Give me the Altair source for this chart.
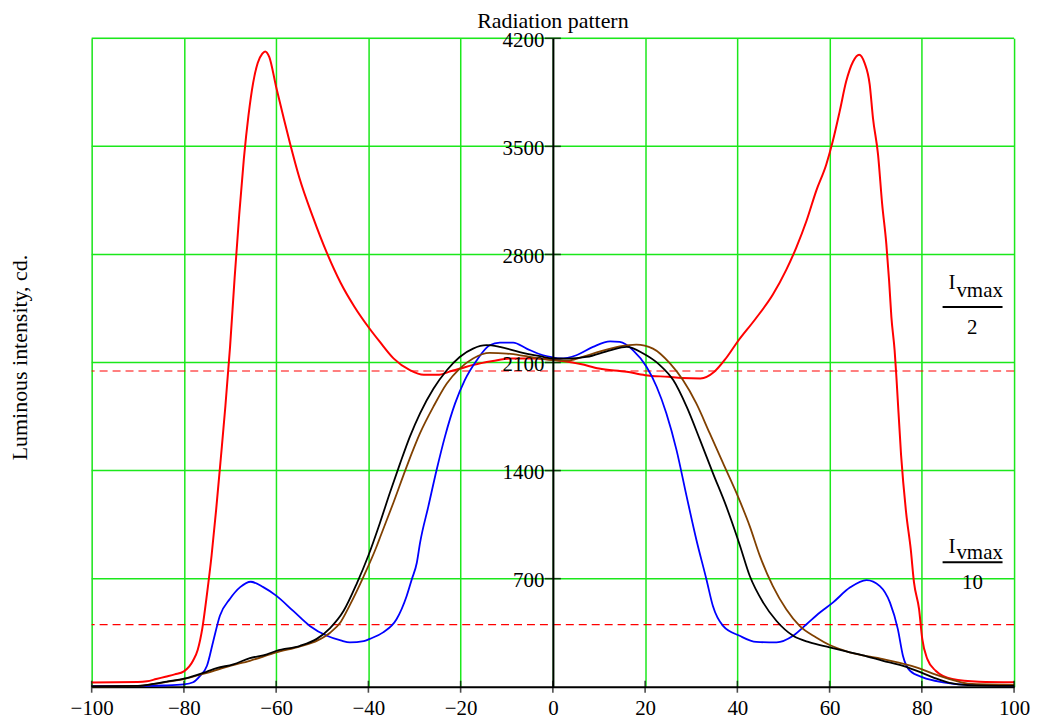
import altair as alt
import pandas as pd

# ---------------- data ----------------
TITLE = "Radiation pattern"
Y_TITLE = "Luminous intensity, cd."
X_TICKS = [-100, -80, -60, -40, -20, 0, 20, 40, 60, 80, 100]
Y_TICKS = [700, 1400, 2100, 2800, 3500, 4200]
LEVELS = [2045, 402]          # Ivmax/2 and Ivmax/10
DENOMS = ["2", "10"]

RED = [(-100, 28), (-90, 30), (-88, 35), (-86, 50), (-84, 65), (-82, 80), (-80, 100),
       (-78, 170), (-77, 240), (-76, 380), (-75, 600), (-74, 850), (-73, 1150),
       (-72, 1480), (-71, 1820), (-70, 2200), (-69, 2650), (-68, 3060), (-67, 3420),
       (-66, 3700), (-65, 3910), (-64, 4040), (-63, 4100), (-62.4, 4115), (-61.5, 4080),
       (-60, 3885), (-58.5, 3700), (-57, 3520), (-55, 3300), (-52, 3040), (-49, 2810),
       (-46, 2615), (-43, 2460), (-40, 2330), (-37.5, 2233), (-34.5, 2125), (-31, 2050),
       (-28, 2020), (-25, 2020), (-22, 2045), (-20, 2061), (-17.5, 2083), (-13, 2110),
       (-9, 2126), (-4, 2126), (0, 2118), (2, 2110), (6, 2090), (10, 2061), (16, 2040),
       (20, 2018), (25, 2007), (28, 2000), (32, 1997), (35, 2040), (37.5, 2126),
       (40, 2233), (44, 2385), (47.7, 2540), (50.6, 2700), (52.8, 2846), (55, 3018),
       (57.1, 3212), (59.3, 3384), (60.7, 3534), (62.2, 3728), (63.6, 3921), (65.1, 4050),
       (66.4, 4094), (67.6, 4039), (68.7, 3900), (69.4, 3685), (70.5, 3448), (71.4, 3126),
       (72.3, 2868), (72.9, 2631), (73.4, 2394), (74.1, 2179), (74.5, 2000), (75.5, 1500),
       (76.6, 1126), (77.6, 889), (78.3, 676), (79.4, 502), (80.1, 308), (81.2, 179),
       (83, 104), (86.6, 50), (92.4, 33), (100, 29)]

BLUE = [(-100, 5), (-90, 5), (-84, 8), (-80, 15), (-78, 29), (-76.5, 70), (-75, 136),
        (-73.6, 300), (-72.2, 460), (-70, 570), (-67.8, 645), (-65.5, 680), (-62.8, 645),
        (-60, 590), (-56.3, 491), (-52.7, 394), (-49, 330), (-46, 300), (-44, 287),
        (-41, 295), (-39.7, 310), (-36.8, 352), (-33.9, 437), (-31.7, 588), (-30.6, 695),
        (-29.5, 803), (-28.8, 932), (-27, 1168), (-25.2, 1405), (-23.4, 1620),
        (-21.2, 1835), (-19.1, 1986), (-16.5, 2115), (-13.7, 2212), (-11.5, 2229),
        (-8.6, 2229), (-5.7, 2190), (-2.1, 2147), (0, 2133), (1.5, 2126), (5.1, 2147),
        (8.7, 2201), (12.4, 2237), (14.5, 2233), (17.4, 2179), (20.3, 2072), (22.5, 1943),
        (24.6, 1771), (26.8, 1534), (29, 1233), (31.1, 954), (33.3, 695), (34.7, 523),
        (36.9, 394), (40.5, 330), (44.1, 290), (48.5, 287), (52.1, 330), (55, 405),
        (57.9, 481), (60.7, 545), (64.4, 642), (68, 691), (70.9, 652), (73.1, 545),
        (74.8, 373), (75.9, 201), (77.4, 104), (80.2, 61), (84.6, 29), (90, 12), (100, 8)]

BROWN = [(-100, 3), (-90, 6), (-86, 20), (-83, 35), (-80, 50), (-75, 90), (-70, 135),
         (-65.7, 168), (-60, 222), (-54.8, 262), (-51, 300), (-48.3, 350), (-46, 420),
         (-44, 530), (-41.1, 710), (-38.2, 910), (-37.5, 965), (-34.6, 1190), (-31.7, 1426),
         (-28.8, 1642), (-25.9, 1814), (-23, 1964), (-20.2, 2061), (-17.3, 2126),
         (-13.7, 2162), (-10, 2158), (-5.8, 2141), (0, 2115), (3, 2112), (8.7, 2158),
         (14.5, 2205), (18.1, 2216), (21.7, 2190), (25.4, 2094), (28.2, 1986), (31.1, 1835),
         (34, 1642), (36.9, 1448), (39.8, 1255), (42.7, 1039), (44.9, 846), (47.7, 652),
         (50.6, 502), (53.5, 394), (57.1, 319), (60, 270), (64.4, 223), (71.6, 179),
         (78.8, 126), (82.4, 85), (86, 50), (90, 20), (100, 12)]

BLACK = [(-100, 3), (-90, 5), (-86.6, 18), (-83.7, 33), (-80, 52), (-75, 98), (-72.9, 120),
         (-69.3, 145), (-65.7, 185), (-62, 210), (-59.9, 233), (-54.8, 265), (-51.2, 310),
         (-48.3, 380), (-45.4, 490), (-42.5, 670), (-40, 850), (-37.5, 1061), (-35.3, 1260),
         (-33.2, 1440), (-31, 1620), (-28.8, 1771), (-25.9, 1930), (-23, 2050), (-20.2, 2136),
         (-17.3, 2190), (-14.4, 2212), (-11.5, 2201), (-7.2, 2168), (-2.8, 2141), (0, 2126),
         (3, 2125), (7.3, 2136), (12.4, 2179), (16, 2201), (19.6, 2158), (23.2, 2083),
         (26.1, 1986), (29, 1814), (31.9, 1599), (34.7, 1384), (37.6, 1168), (40.5, 920),
         (42.7, 717), (45.6, 545), (48.5, 426), (52.1, 330), (55.7, 287), (60, 255),
         (64.4, 223), (68, 197), (71.6, 168), (75.2, 141), (78.8, 104), (82.4, 61),
         (86, 25), (90, 10), (100, 5)]

# ---------------- styling ----------------
W, H = 926, 651
FONT = "Liberation Serif"
GREEN = "#1be81b"

xs = alt.Scale(domain=[-100, 100], nice=False, zero=False)
ys = alt.Scale(domain=[0, 4200], nice=False, zero=False)

x_axis = alt.Axis(values=X_TICKS, title=None, grid=True, gridColor=GREEN, gridWidth=1.5,
                  gridOpacity=1, domain=True, domainColor="black", domainWidth=2,
                  ticks=False, tickSize=0, labelPadding=11, labelFont=FONT,
                  labelFontSize=21, labelColor="black", labelFlush=False,
                  labelOverlap=False, format="d")
y_axis = alt.Axis(values=Y_TICKS, title=Y_TITLE, titleFont=FONT, titleFontSize=22,
                  titleFontWeight="normal", titleColor="black", titleX=-535, titleY=320,
                  titleAlign="center", titleBaseline="middle", grid=False, offset=-W / 2,
                  domain=True, domainColor="black", domainWidth=2, ticks=False, tickSize=0,
                  labelPadding=9, labelFont=FONT, labelFontSize=21, labelColor="black",
                  labelOffset=2, labelOverlap=False, format="d", zindex=1)

X = alt.X("angle:Q", scale=xs, axis=x_axis)
Y = alt.Y("intensity:Q", scale=ys, axis=y_axis)


def frame(pts):
    return pd.DataFrame({"angle": [p[0] for p in pts], "intensity": [p[1] for p in pts]})


grid = alt.Chart(pd.DataFrame({"intensity": Y_TICKS})).mark_rule(
    color=GREEN, strokeWidth=1.5).encode(y=Y)

dashed = alt.Chart(pd.DataFrame({"intensity": LEVELS})).mark_rule(
    color="#ff0000", strokeWidth=1.1, strokeDash=[8, 5]).encode(y=Y)


def curve(pts, color, width):
    return alt.Chart(frame(pts)).mark_line(
        color=color, strokeWidth=width, interpolate="monotone").encode(x=X, y=Y)


curves = [curve(RED, "#ff0000", 2.0), curve(BLUE, "#0000ff", 1.8),
          curve(BROWN, "#804000", 1.8), curve(BLACK, "#000000", 1.8)]

xticks = alt.Chart(pd.DataFrame({"angle": X_TICKS, "intensity": [0] * len(X_TICKS)})).mark_tick(
    orient="vertical", size=12, thickness=1.6, color="black").encode(x=X, y=Y)
yticks = alt.Chart(pd.DataFrame({"angle": [0] * len(Y_TICKS), "intensity": Y_TICKS})).mark_tick(
    orient="horizontal", size=16, thickness=1.6, color="black").encode(x=X, y=Y)

# fraction annotations "Ivmax / 2" and "Ivmax / 10" (placed in data units)
frac = pd.DataFrame({
    "angle": [84.5, 84.5], "angle_end": [97.5, 97.5],
    "intensity": [2459, 807],
})
bars = alt.Chart(frac).mark_rule(color="black", strokeWidth=2).encode(
    x=X, x2="angle_end:Q", y=Y)

num_I = alt.Chart(pd.DataFrame({"angle": [87.3, 87.3], "intensity": [2573, 868],
                                "label": ["I", "I"]})).mark_text(
    font=FONT, fontSize=21, align="right", baseline="alphabetic", color="black").encode(
    x=X, y=Y, text="label:N")
num_sub = alt.Chart(pd.DataFrame({"angle": [87.5, 87.5], "intensity": [2523, 825],
                                  "label": ["vmax", "vmax"]})).mark_text(
    font=FONT, fontSize=21, align="left", baseline="alphabetic", color="black").encode(
    x=X, y=Y, text="label:N")
den = alt.Chart(pd.DataFrame({"angle": [90.9, 91.0], "intensity": [2283, 631],
                              "label": DENOMS})).mark_text(
    font=FONT, fontSize=21, align="center", baseline="alphabetic", color="black").encode(
    x=X, y=Y, text="label:N")

chart = alt.layer(grid, dashed, *curves, xticks, yticks, bars, num_I, num_sub, den).properties(
    width=W, height=H,
    title=alt.TitleParams(TITLE, font=FONT, fontSize=22, fontWeight="normal", color="black",
                          frame="group", anchor="middle", offset=-4),
    autosize=alt.AutoSizeParams(type="none"),
    padding={"left": 84, "top": 29, "right": 18, "bottom": 32},
).configure_view(stroke=None).configure(background="white")

chart.save("out.html", embed_options={"renderer": "svg", "actions": False})
